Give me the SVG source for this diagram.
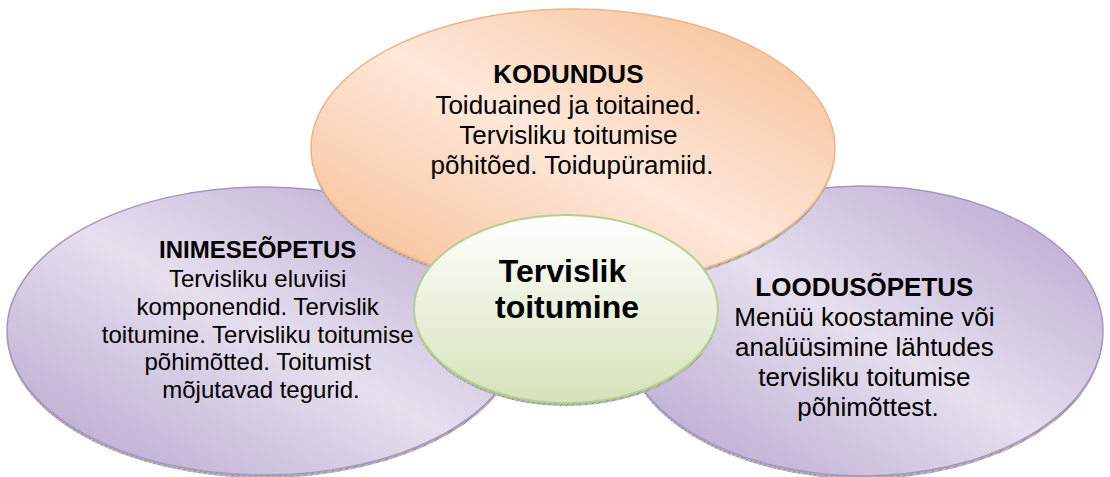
<svg xmlns="http://www.w3.org/2000/svg" width="1110" height="477" viewBox="0 0 1110 477">
  <defs>
    <linearGradient id="gPurple" x1="1" y1="0" x2="0" y2="1">
      <stop offset="0" stop-color="#b5a3cc"/>
      <stop offset="0.5" stop-color="#e5dfee"/>
      <stop offset="1" stop-color="#b5a3cc"/>
    </linearGradient>
    <linearGradient id="gOrange" x1="1" y1="0" x2="0" y2="1">
      <stop offset="0" stop-color="#f7bb8e"/>
      <stop offset="0.5" stop-color="#fde8da"/>
      <stop offset="1" stop-color="#f7bb8e"/>
    </linearGradient>
    <linearGradient id="gGreen" x1="0" y1="0" x2="0" y2="1">
      <stop offset="0" stop-color="#ffffff"/>
      <stop offset="1" stop-color="#d5e3b9"/>
    </linearGradient>
    <pattern id="hatch" width="6" height="6" patternUnits="userSpaceOnUse">
      <rect width="6" height="6" fill="#b4b4b4"/>
      <path d="M0 6 L6 0" stroke="#7c7c7c" stroke-width="0.8"/>
    </pattern>
  </defs>
  <style>
    .shadow { fill: url(#hatch); }
    .purple { fill: url(#gPurple); stroke: #a792c6; stroke-width: 1.5; }
    .orange { fill: url(#gOrange); stroke: #f4b183; stroke-width: 1.5; }
    .green { fill: url(#gGreen); stroke: #b3d08f; stroke-width: 2; }
    text { font-family: "Liberation Sans", Arial, sans-serif; fill: #000; text-anchor: middle; }
    .t26 { font-size: 26px; }
    .t24 { font-size: 24px; }
    .b { font-weight: bold; }
    .c32 { font-size: 32px; font-weight: bold; }
  </style>

  <g id="inimeseopetus">
    <ellipse class="shadow" cx="264" cy="334" rx="257" ry="144"/>
    <ellipse class="purple" cx="264" cy="331" rx="257" ry="144"/>
    <text class="t24">
      <tspan x="261" y="258" class="b">INIMESEÕPETUS</tspan>
      <tspan x="261" y="287">Tervisliku eluviisi</tspan>
      <tspan x="261" y="315">komponendid. Tervislik</tspan>
      <tspan x="261" y="343">toitumine. Tervisliku toitumise</tspan>
      <tspan x="261" y="370">põhimõtted. Toitumist</tspan>
      <tspan x="261" y="398">mõjutavad tegurid.</tspan>
    </text>
  </g>

  <g id="loodusopetus">
    <ellipse class="shadow" cx="863" cy="334" rx="240" ry="145"/>
    <ellipse class="purple" cx="863" cy="331" rx="240" ry="145"/>
    <text class="t26">
      <tspan x="868" y="296" class="b">LOODUSÕPETUS</tspan>
      <tspan x="868" y="326">Menüü koostamine või</tspan>
      <tspan x="868" y="356">analüüsimine lähtudes</tspan>
      <tspan x="868" y="386">tervisliku toitumise</tspan>
      <tspan x="868" y="416">põhimõttest.</tspan>
    </text>
  </g>

  <g id="kodundus">
    <ellipse class="shadow" cx="573" cy="151" rx="262" ry="139"/>
    <ellipse class="orange" cx="573" cy="148" rx="262" ry="139"/>
    <text class="t26">
      <tspan x="572" y="83" class="b">KODUNDUS</tspan>
      <tspan x="572" y="114">Toiduained ja toitained.</tspan>
      <tspan x="572" y="144">Tervisliku toitumise</tspan>
      <tspan x="572" y="174">põhitõed. Toidupüramiid.</tspan>
    </text>
  </g>

  <g id="tervislik-toitumine">
    <ellipse class="shadow" cx="566" cy="312" rx="152" ry="94"/>
    <ellipse class="green" cx="566" cy="309" rx="152" ry="94"/>
    <text class="c32">
      <tspan x="567" y="282">Tervislik</tspan>
      <tspan x="567" y="318">toitumine</tspan>
    </text>
  </g>

  <g id="connectors"/>
</svg>
